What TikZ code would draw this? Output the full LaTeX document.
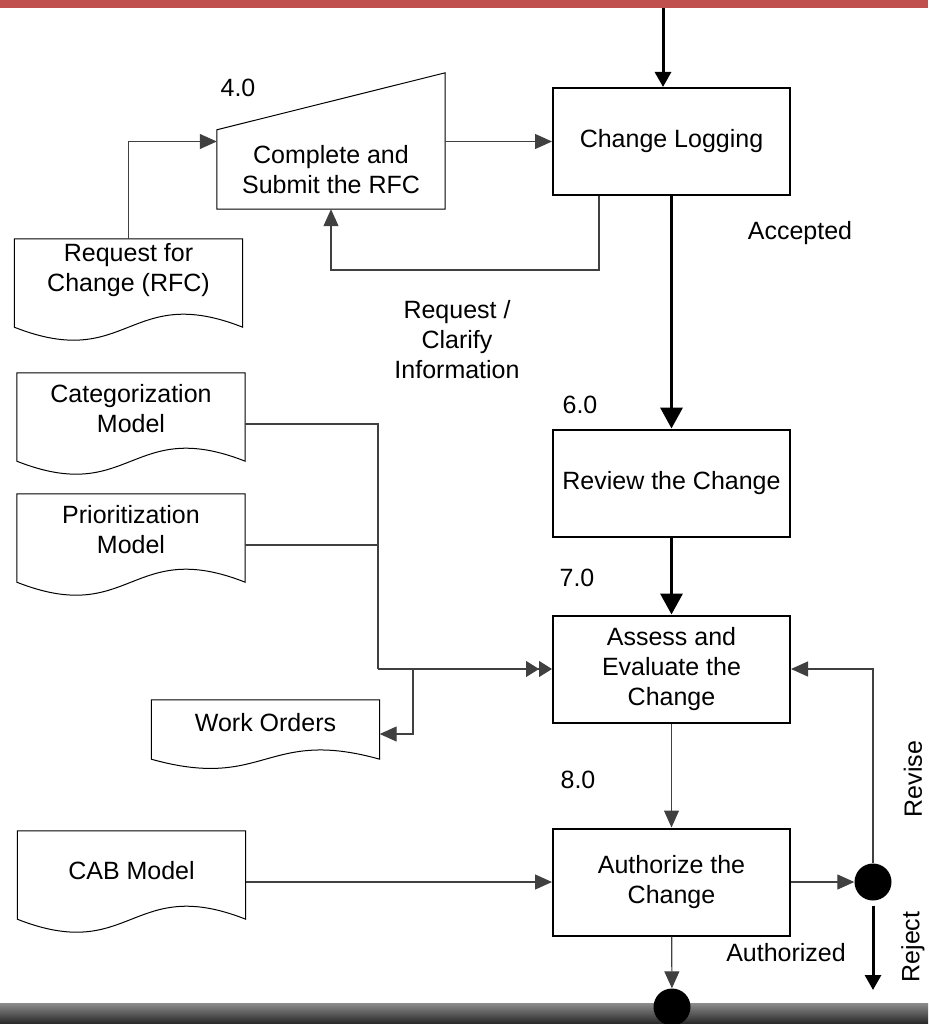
\documentclass[tikz,border=0pt]{standalone}
\usepackage{fontspec}
\setmainfont{Liberation Sans}
\usetikzlibrary{arrows.meta,calc}
\definecolor{barred}{RGB}{192,80,77}
\newcommand{\liftlines}[2]{\raisebox{#1}[\height][\depth]{\begin{tabular}{@{}c@{}}#2\end{tabular}}}
\newcommand{\docoutline}[3]{\draw [docline] (#1.north west) -- (#1.north east) -- ($(#1.south east)+(0,-#2)$) .. controls ($(#1.south)+(0,-#2-#3)$) and ($(#1.south)+(0,#3-#2)$) .. ($(#1.south west)+(0,-#2)$) -- cycle;}

\begin{document}
\begin{tikzpicture}[x=1pt, y=-1pt, font=\fontsize{25}{30}\selectfont,
  proc/.style={draw, line width=2pt, minimum width=237pt, minimum height=107pt, align=center},
  doc/.style={minimum width=228pt, minimum height=102pt, inner sep=0pt},
  docline/.style={line width=1pt},
  conn/.style={line width=1.2pt, black!75},
  arr/.style={conn, -{Triangle[length=17pt,width=15pt]}},
  heavy/.style={line width=3.5pt, -{Triangle[length=21pt,width=22pt]}},
  heavysmall/.style={line width=3pt, -{Triangle[length=15pt,width=16pt]}},
  twin/.style={conn, -{Triangle[length=13pt,width=16pt]Triangle[length=13pt,width=16pt]}},
  dot/.style={circle, fill=black, minimum size=37pt, inner sep=0pt}]

\useasboundingbox (0,0) rectangle (928,1024);
\fill [barred] (0,0) rectangle (928,8);
\shade [top color=black!45, bottom color=black!85] (0,1003) rectangle (928,1024);

\node [proc] (p1) at (671.5,141.5) {Change Logging};
\node [proc] (p2) at (671.5,483) {Review the Change};
\node [proc] (p3) at (671.5,669) {Assess and\\Evaluate the\\Change};
\node [proc] (p4) at (671.5,882) {Authorize the\\Change};

\node [minimum width=228pt, minimum height=79pt, align=center] (t1) at (331,169.5) {Complete and\\Submit the RFC};
\draw [docline] (t1.south west) -- (t1.north west) -- ($(t1.north east)+(0,-57)$) -- (t1.south east) -- cycle;

\node [doc] (d1) at (128.5,290) {\liftlines{20pt}{Request for\\Change (RFC)}};
\node [doc] (d2) at (131,424) {\liftlines{13pt}{Categorization\\Model}};
\node [doc] (d3) at (131,545) {\liftlines{13pt}{Prioritization\\Model}};
\node [doc] (d4) at (131.5,882) {\liftlines{9pt}{CAB Model}};
\node [doc, minimum height=68pt] (d5) at (265.5,734) {\liftlines{9pt}{Work Orders}};
\docoutline{d1}{14}{45}
\docoutline{d2}{14}{45}
\docoutline{d3}{14}{45}
\docoutline{d4}{14}{45}
\docoutline{d5}{9}{32}

\node [dot] (c1) at (873,882) {};
\node [dot] (c2) at (672,1007) {};

\node (l1) at (238,88) {4.0};
\node (l2) at (580,405) {6.0};
\node (l3) at (577,578) {7.0};
\node (l4) at (578,780) {8.0};
\node (l5) at (800,233) {Accepted};
\node [align=center] (l6) at (457,340) {Request /\\Clarify\\Information};
\node (l7) at (786,953) {Authorized};
\node [rotate=90] (l8) at (913,779) {Revise};
\node [rotate=90] (l9) at (913,947) {Reject};

\coordinate (e1) at (663,8);
\coordinate (e2) at (873,990);
\coordinate (k1) at (599,270);
\coordinate (m1) at (378,669);
\coordinate (m2) at (413,669);

\draw [heavysmall] (e1) -- (e1 |- p1.north);
\draw [arr] (d1.north) |- (p1.west -| t1.west);
\draw [arr] (p1.west -| t1.east) -- (p1.west);
\draw [arr] (k1 |- p1.south) -- (k1) -| (t1.south);
\draw [heavy] (p1) -- (p2);
\draw [heavy] (p2) -- (p3);
\draw [arr] (p3) -- (p4);

\draw [conn] (d2.east) -| (m1);
\draw [conn] (d3.east) -| (m1);
\draw [twin] (m1) -- (p3.west);
\draw [arr] (m2) |- (d5.east);

\draw [arr] (d4) -- (p4);
\draw [arr] (p4) -- (c1);
\draw [arr] (c1) |- (p3.east);
\draw [heavysmall, shorten <=5pt] (c1) -- (e2);
\draw [arr] (p4) -- (c2);
\end{tikzpicture}
\end{document}
